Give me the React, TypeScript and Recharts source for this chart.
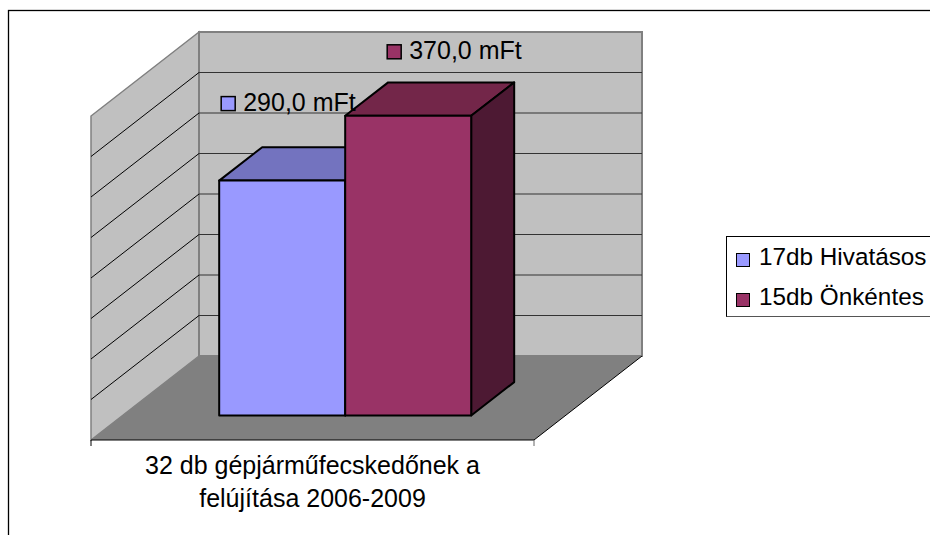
import React from 'react';
import { BarChart, Bar, XAxis, YAxis, Legend, LabelList, Customized } from 'recharts';

const categories = ['32 db gépjárműfecskedőnek a|felújítása 2006-2009'];
const seriesNames = ['17db Hivatásos', '15db Önkéntes'];
const hivatasos = [290];
const onkentes = [370];
const yTicks = [0, 50, 100, 150, 200, 250, 300, 350, 400];

const chartData = categories.map((category, i) => ({
  category,
  hivatasos: hivatasos[i],
  onkentes: onkentes[i],
}));

// plane the bars stand on
const PLOT = { left: 123.5, top: 91.5, width: 443, height: 324 };
// back wall / floor geometry relative to that plane
const BACK = { dx: 75.5, dy: -59.5 };
const FRONT = { dx: -32.5, dy: 24.5 };
const BAR_DEPTH = { dx: 43, dy: -33.4 };
const FONT = '"Liberation Sans", Arial, sans-serif';

const wallY = (v: number) => PLOT.top + BACK.dy + PLOT.height * (1 - v / yTicks[yTicks.length - 1]);

const Room = () => {
  const bx0 = PLOT.left + BACK.dx;
  const bx1 = bx0 + PLOT.width;
  const fx0 = PLOT.left + FRONT.dx;
  const fx1 = fx0 + PLOT.width;
  const floorBack = wallY(0);
  const floorFront = PLOT.top + PLOT.height + FRONT.dy;
  const wallTop = wallY(400);
  const shift = floorFront - floorBack;
  return (
    <g>
      <rect x={8.5} y={10.5} width={1000} height={700} fill="#fff" stroke="#000" strokeWidth={1.3} />
      <polygon
        points={`${bx0},${wallTop} ${fx0},${wallTop + shift} ${fx0},${floorFront} ${bx0},${floorBack}`}
        fill="#c0c0c0"
        stroke="#808080"
        strokeWidth={1.5}
      />
      <rect x={bx0} y={wallTop} width={PLOT.width} height={floorBack - wallTop} fill="#c0c0c0" stroke="#808080" strokeWidth={2} />
      {yTicks.slice(1, -1).map((v) => (
        <g key={v}>
          <line x1={bx0} x2={bx1} y1={wallY(v)} y2={wallY(v)} stroke="#333" strokeWidth={1} />
          <line x1={bx0} x2={fx0} y1={wallY(v)} y2={wallY(v) + shift} stroke="#000" strokeWidth={1} />
        </g>
      ))}
      <polygon points={`${bx0},${floorBack} ${bx1},${floorBack} ${fx1},${floorFront} ${fx0},${floorFront}`} fill="#808080" />
      <line x1={fx0} x2={fx1} y1={floorFront} y2={floorFront} stroke="#000" strokeWidth={1} />
      <line x1={fx1} x2={bx1} y1={floorFront} y2={floorBack} stroke="#000" strokeWidth={1} />
      <line x1={fx0} x2={fx0} y1={floorFront} y2={floorFront + 6} stroke="#000" strokeWidth={1} />
      <line x1={fx1} x2={fx1} y1={floorFront} y2={floorFront + 6} stroke="#666" strokeWidth={1} />
    </g>
  );
};

const box = (topFill: string, sideFill: string) => (props: any) => {
  const { x, y, width, height, fill } = props;
  const { dx, dy } = BAR_DEPTH;
  const r = x + width;
  const b = y + height;
  return (
    <g stroke="#000" strokeWidth={2} strokeLinejoin="round">
      <polygon points={`${x},${y} ${x + dx},${y + dy} ${r + dx},${y + dy} ${r},${y}`} fill={topFill} />
      <polygon points={`${r},${y} ${r + dx},${y + dy} ${r + dx},${b + dy} ${r},${b}`} fill={sideFill} />
      <rect x={x} y={y} width={width} height={height} fill={fill} />
    </g>
  );
};

const valueLabel = (fill: string, offsetX: number, offsetY: number) => (props: any) => {
  const { x, y, value } = props;
  const text = `${Number(value).toFixed(1).replace('.', ',')} mFt`;
  return (
    <g>
      <rect x={x + offsetX} y={y + offsetY} width={14} height={14} fill={fill} stroke="#000" strokeWidth={1.5} />
      <text x={x + offsetX + 22} y={y + offsetY + 14} fontFamily={FONT} fontSize={25} fill="#000">
        {text}
      </text>
    </g>
  );
};

const CategoryTick = (props: any) => {
  const { x, y, payload } = props;
  const lines = String(payload.value).split('|');
  return (
    <text x={x + FRONT.dx} textAnchor="middle" fontFamily={FONT} fontSize={25} fill="#000">
      {lines.map((line, i) => (
        <tspan key={line} x={x + FRONT.dx} y={y + 50 + i * 33.5}>
          {line}
        </tspan>
      ))}
    </text>
  );
};

const LegendBox = ({ payload }: any) => {
  const entries = [...(payload || [])].sort((a: any, b: any) => seriesNames.indexOf(a.value) - seriesNames.indexOf(b.value));
  return (
    <div
      style={{
        width: 240,
        height: 81,
        boxSizing: 'border-box',
        border: '1px solid #000',
        borderBottomColor: '#555',
        background: '#fff',
        fontFamily: FONT,
        fontSize: 24.3,
        color: '#000',
        paddingLeft: 9,
        paddingTop: 3,
      }}
    >
      {entries.map((entry: any) => (
        <div key={entry.value} style={{ display: 'flex', alignItems: 'center', height: 40, lineHeight: '40px' }}>
          <span style={{ width: 14, height: 14, background: entry.color, border: '1.5px solid #000', boxSizing: 'border-box', marginRight: 9, flex: 'none' }} />
          <span style={{ whiteSpace: 'nowrap', position: 'relative', top: -3 }}>{entry.value}</span>
        </div>
      ))}
    </div>
  );
};

export default function App() {
  return (
    <div style={{ position: 'absolute', left: 0, top: 0, width: 930, height: 535, overflow: 'hidden', background: '#fff' }}>
      <BarChart
        width={930}
        height={535}
        data={chartData}
        margin={{
          left: PLOT.left,
          top: PLOT.top,
          right: 930 - PLOT.left - PLOT.width,
          bottom: 535 - PLOT.top - PLOT.height - 1,
        }}
        barCategoryGap="21.6%"
        barGap={0}
      >
        <Customized component={Room} />
        <XAxis dataKey="category" axisLine={false} tickLine={false} tick={<CategoryTick />} interval={0} height={1} />
        <YAxis hide domain={[0, 400]} ticks={yTicks} width={0} />
        <Legend
          layout="horizontal"
          align="center"
          verticalAlign="middle"
          content={<LegendBox />}
          wrapperStyle={{ position: 'absolute', left: 726, top: 236, width: 240, height: 81, margin: 0 }}
        />
        <Bar dataKey="hivatasos" name={seriesNames[0]} fill="#9999ff" shape={box('#7373bf', '#4d4d80')} isAnimationActive={false}>
          <LabelList dataKey="hivatasos" content={valueLabel('#9999ff', 2, -84)} />
        </Bar>
        <Bar dataKey="onkentes" name={seriesNames[1]} fill="#993366" shape={box('#732649', '#4d1933')} isAnimationActive={false}>
          <LabelList dataKey="onkentes" content={valueLabel('#993366', 42, -71)} />
        </Bar>
      </BarChart>
    </div>
  );
}
